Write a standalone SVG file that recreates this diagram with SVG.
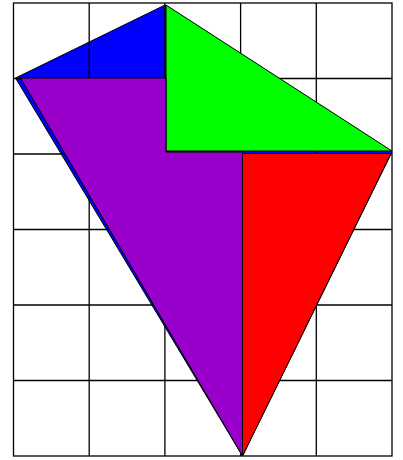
<svg xmlns="http://www.w3.org/2000/svg" width="403" height="460" viewBox="0 0 403 460">
<style>
.g{stroke:#000;stroke-width:1.3;fill:none}
.s{stroke:#000;stroke-width:1;stroke-linejoin:miter}
</style>
<rect width="403" height="460" fill="#fff"/>
<g id="blue"><polygon class="s" fill="#0000ff" points="15.5,78 165,5 392,152 242.5,456"/></g>
<g id="grid">
<rect class="g" x="13.5" y="3" width="378.5" height="453"/>
<path class="g" d="M89.2 3V456M164.9 3V456M240.6 3V456M316.3 3V456M13.5 78.5H392M13.5 154H392M13.5 229.5H392M13.5 305H392M13.5 380.5H392"/>
</g>
<g id="green"><polygon class="s" fill="#00ff00" points="166,5 392,151 166,151"/></g>
<g id="purple"><polygon class="s" fill="#9900cc" points="20.5,78 166,78 166,152 242.5,152 242.5,456"/></g>
<g id="red"><polygon class="s" fill="#ff0000" points="242.5,153.5 391,153.5 242.5,456"/></g>
</svg>
